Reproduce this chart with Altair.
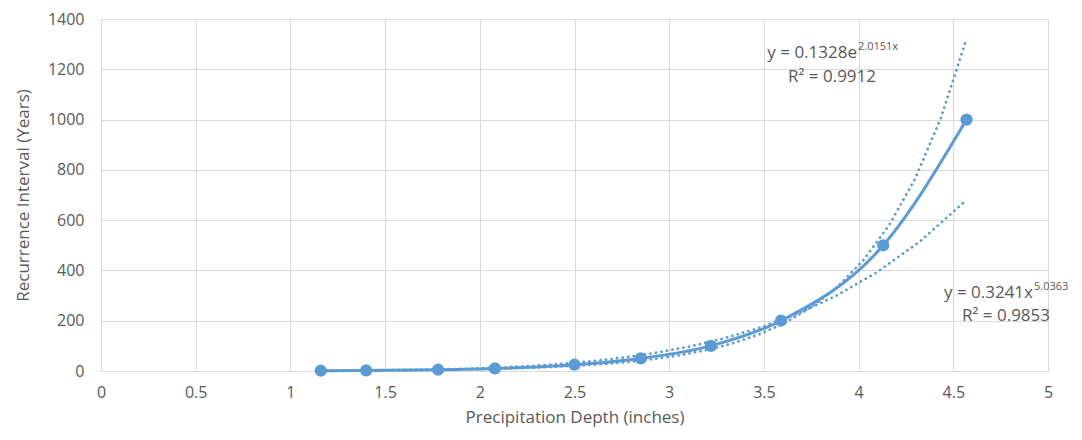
import altair as alt
import pandas as pd

# Data
depth = [1.16, 1.40, 1.78, 2.08, 2.50, 2.85, 3.22, 3.59, 4.13, 4.57]
interval = [1, 2, 5, 10, 25, 50, 100, 200, 500, 1000]
x_ticks = [0, 0.5, 1, 1.5, 2, 2.5, 3, 3.5, 4, 4.5, 5]
y_ticks = [0, 200, 400, 600, 800, 1000, 1200, 1400]

exp_eq = "y = 0.1328e"
exp_sup = "2.0151x"
exp_r2 = "R² = 0.9912"
pow_eq = "y = 0.3241x"
pow_sup = "5.0363"
pow_r2 = "R² = 0.9853"

df = pd.DataFrame({"depth": depth, "interval": interval})

BLUE = "#5B9BD5"
GREY = "#595959"
GRID = "#D9D9D9"
FONT = "Open Sans"

xscale = alt.Scale(domain=[0, 5], nice=False, zero=False)
yscale = alt.Scale(domain=[0, 1400], nice=False)

x_axis = alt.Axis(values=x_ticks, format="~g", title="Precipitation Depth (inches)",
                  grid=True, gridColor=GRID, gridWidth=1, domain=True, domainColor=GRID,
                  ticks=False, labelPadding=13, labelFontSize=16, labelColor=GREY,
                  labelFont=FONT, titleFont=FONT, titleFontSize=17, titleColor=GREY,
                  titleFontWeight="normal", titlePadding=9, labelFlush=False)
y_axis = alt.Axis(values=y_ticks, format="d", title="Recurrence Interval (Years)",
                  grid=True, gridColor=GRID, gridWidth=1, domain=False,
                  ticks=False, labelPadding=17, labelFontSize=16, labelColor=GREY,
                  labelFont=FONT, titleFont=FONT, titleFontSize=17, titleColor=GREY,
                  titleFontWeight="normal", titlePadding=15)

base = alt.Chart(df)

series_line = base.mark_line(color=BLUE, strokeWidth=3, interpolate="monotone").encode(
    x=alt.X("depth:Q", scale=xscale, axis=x_axis),
    y=alt.Y("interval:Q", scale=yscale, axis=y_axis),
)
series_pts = base.mark_circle(color=BLUE, size=150, opacity=1).encode(
    x=alt.X("depth:Q", scale=xscale),
    y=alt.Y("interval:Q", scale=yscale),
)

dot_style = dict(color=BLUE, strokeWidth=2.75, strokeDash=[0.1, 5.5], strokeCap="round")

# Exponential trendline: least squares on ln(y)
exp_trend = (
    base.transform_calculate(ly="log(datum.interval)")
    .transform_regression("depth", "ly", method="poly", order=1)
    .transform_calculate(fit="exp(datum.ly)")
    .mark_line(**dot_style)
    .encode(x=alt.X("depth:Q", scale=xscale), y=alt.Y("fit:Q", scale=yscale))
)

# Power trendline: least squares on ln(x), ln(y)
pow_trend = (
    base.transform_calculate(lx="log(datum.depth)", ly="log(datum.interval)")
    .transform_regression("lx", "ly", method="poly", order=1)
    .transform_calculate(px="exp(datum.lx)", py="exp(datum.ly)")
    .mark_line(**dot_style)
    .encode(x=alt.X("px:Q", scale=xscale), y=alt.Y("py:Q", scale=yscale))
)

def label(txt, px, py, align, size):
    return alt.Chart(pd.DataFrame({"t": [txt]})).mark_text(
        align=align, baseline="middle", font=FONT, fontSize=size, color=GREY
    ).encode(text="t:N", x=alt.value(px), y=alt.value(py))

labels = [
    label(exp_eq, 756, 34, "right", 17),
    label(exp_sup, 757, 28, "left", 11),
    label(exp_r2, 731, 58, "center", 17),
    label(pow_eq, 932, 274, "right", 17),
    label(pow_sup, 933, 268, "left", 11),
    label(pow_r2, 905, 297, "center", 17),
]

chart = alt.layer(series_line, series_pts, exp_trend, pow_trend, *labels).properties(
    width=947, height=352,
    autosize=alt.AutoSizeParams(type="none"),
    padding={"left": 93, "top": 11, "right": 26, "bottom": 61},
).configure_view(stroke=None).configure(background="white")

chart.save("out.html", embed_options={"renderer": "svg", "actions": False})
